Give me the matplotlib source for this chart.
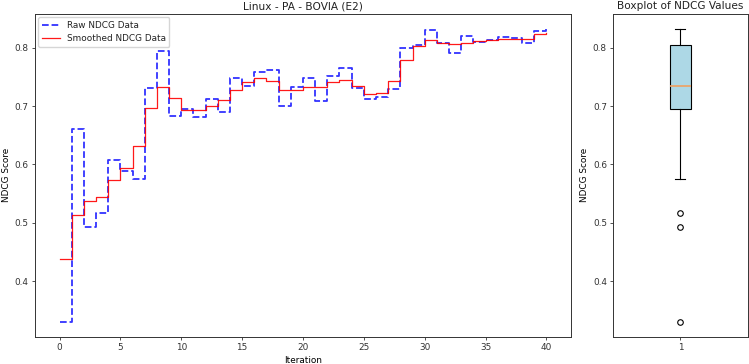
import numpy as np
import matplotlib
matplotlib.use("Agg")
import matplotlib.pyplot as plt

# NDCG per iteration
iterations = list(range(41))
raw_ndcg = [0.330, 0.661, 0.493, 0.517, 0.608, 0.588, 0.575, 0.732, 0.794, 0.683,
            0.695, 0.681, 0.713, 0.690, 0.748, 0.735, 0.759, 0.762, 0.700, 0.733,
            0.748, 0.709, 0.752, 0.765, 0.731, 0.712, 0.715, 0.730, 0.799, 0.805,
            0.831, 0.809, 0.792, 0.821, 0.810, 0.814, 0.819, 0.817, 0.809, 0.829,
            0.833]
smoothed_ndcg = [0.438, 0.514, 0.537, 0.545, 0.573, 0.594, 0.631, 0.697, 0.733, 0.714,
                 0.694, 0.693, 0.700, 0.711, 0.727, 0.741, 0.749, 0.743, 0.728, 0.728,
                 0.733, 0.733, 0.742, 0.745, 0.734, 0.721, 0.723, 0.744, 0.780, 0.804,
                 0.813, 0.808, 0.806, 0.809, 0.811, 0.813, 0.815, 0.816, 0.816, 0.824,
                 0.826]

plt.rcParams['font.size'] = 6.4
plt.rcParams['axes.linewidth'] = 0.7
plt.rcParams['axes.labelpad'] = 2.5
plt.rcParams['axes.titlepad'] = 3.5
plt.rcParams['xtick.major.pad'] = 2.2
plt.rcParams['ytick.major.pad'] = 2.2
plt.rcParams['xtick.major.width'] = 0.6
plt.rcParams['ytick.major.width'] = 0.6
plt.rcParams['xtick.major.size'] = 2.5
plt.rcParams['ytick.major.size'] = 2.5
plt.rcParams['text.color'] = '#222222'
plt.rcParams['xtick.color'] = '#333333'
plt.rcParams['ytick.color'] = '#333333'
plt.rcParams['axes.edgecolor'] = '#333333'

fig = plt.figure(figsize=(7.49, 3.64), dpi=100)
ax1 = fig.add_axes([0.047, 0.0755, 0.715, 0.886])
ax2 = fig.add_axes([0.819, 0.0755, 0.179, 0.886])

# step plot of raw vs smoothed values
ax1.step(iterations, raw_ndcg, where='post', color='blue', linestyle='--',
         linewidth=1.3, alpha=0.8, label='Raw NDCG Data')
ax1.step(iterations, smoothed_ndcg, where='post', color='red',
         linewidth=0.9, alpha=0.9, label='Smoothed NDCG Data')
ax1.set_title("Linux - PA - BOVIA (E2)", fontsize=7.6)
ax1.set_xlabel("Iteration")
ax1.set_ylabel("NDCG Score")
ax1.legend(loc='upper left', fontsize=6.4, borderaxespad=0.35)

# boxplot of the raw values
ax2.boxplot(raw_ndcg, widths=0.15, patch_artist=True,
            boxprops=dict(facecolor='lightblue', linewidth=0.8),
            medianprops=dict(color='#f0a060', linewidth=1.2),
            whiskerprops=dict(linewidth=0.8),
            capprops=dict(linewidth=0.8),
            flierprops=dict(markersize=4, markeredgewidth=0.8))
ax2.set_ylim(ax1.get_ylim())
ax2.set_title("Boxplot of NDCG Values", fontsize=7.6)
ax2.set_ylabel("NDCG Score")

fig.savefig("out.png", dpi=100)
